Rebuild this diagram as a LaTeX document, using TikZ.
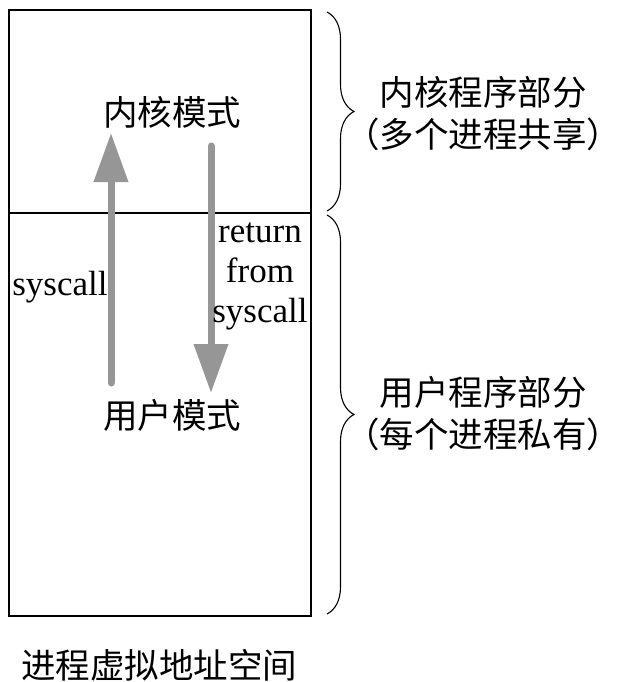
\documentclass[tikz,border=0pt]{standalone}
\usepackage{fontspec}
\setmainfont{Liberation Serif}
\newfontfamily\cjk{Noto Sans CJK SC}
\usetikzlibrary{arrows.meta,decorations.pathreplacing}
\begin{document}
\begin{tikzpicture}[x=1pt,y=-1pt,
  frame/.style={draw=black,line width=1.2pt},
  cjklabel/.style={font=\cjk\fontsize{34.5}{42}\selectfont,inner sep=0pt,align=center},
  latlabel/.style={font=\fontsize{35}{40}\selectfont,inner sep=0pt,align=center},
  modearrow/.style={draw={rgb,255:red,150;green,150;blue,150},line width=7pt,line cap=round,
    -{Triangle[width=33pt,length=49pt]}},
  bracestyle/.style={draw=black,line width=1.1pt,decorate,decoration={brace,amplitude=27pt}}]
\useasboundingbox (0,0) rectangle (621,682);
% frame
\draw[frame] (9,10) rectangle (311,616);
\coordinate (divL) at (9,213);
\coordinate (divR) at (311,213);
\draw[frame] (divL) -- (divR);
% mode labels
\node[cjklabel] (kernel) at (172,112) {内核模式};
\node[cjklabel] (user) at (172,415) {用户模式};
% arrows
\coordinate (upS) at (111,383);
\coordinate (upE) at (111,133);
\coordinate (dnS) at (211,146);
\coordinate (dnE) at (211,393);
\path[modearrow] (upS) -- (upE);
\path[modearrow] (dnS) -- (dnE);
\node[latlabel] (sys) at (60,287) {syscall};
\node[latlabel] (ret) at (260,276) {return\\from\\syscall};
% braces
\coordinate (b1t) at (327,12);
\coordinate (b1b) at (327,211);
\coordinate (b2t) at (327,215);
\coordinate (b2b) at (327,614);
\draw[bracestyle] (b1t) -- (b1b);
\draw[bracestyle] (b2t) -- (b2b);
\node[cjklabel] (klab) at (483,114) {内核程序部分\\（多个进程共享）};
\node[cjklabel] (ulab) at (483,414) {用户程序部分\\（每个进程私有）};
% bottom title
\node[cjklabel] (title) at (159,665) {进程虚拟地址空间};
\end{tikzpicture}
\end{document}
